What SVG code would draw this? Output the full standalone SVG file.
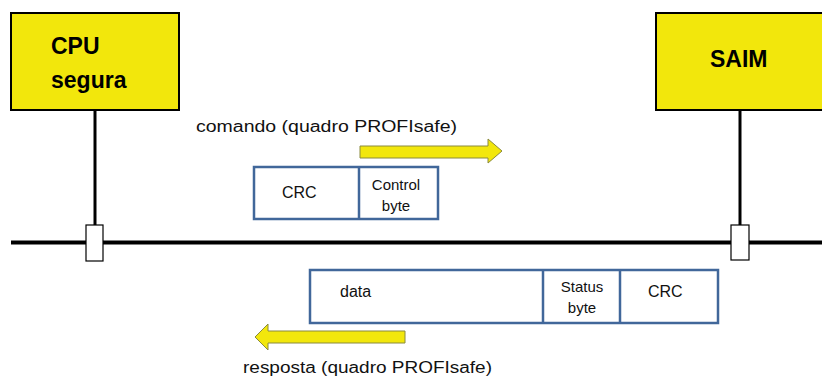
<svg xmlns="http://www.w3.org/2000/svg" width="822" height="378" viewBox="0 0 822 378">
<style>
.dev{fill:#F2E70C;stroke:#000;stroke-width:2}
.dt{font-family:"Liberation Sans",Arial,sans-serif;font-weight:bold;font-size:23px;fill:#000}
.lbl{font-family:"Liberation Sans",Arial,sans-serif;font-size:16px;fill:#111}
.sm{font-family:"Liberation Sans",Arial,sans-serif;font-size:15px;fill:#111}
.frame{fill:#fff;stroke:#41679A;stroke-width:2.5}
.arr{fill:#F2E70C;stroke:#8A8A3C;stroke-width:1}
.wire{stroke:#000;stroke-width:3;fill:none}
.bus{stroke:#000;stroke-width:4;fill:none}
.port{fill:#fff;stroke:#000;stroke-width:1.2}
</style>
<rect width="822" height="378" fill="#fff"/>
<g id="connectors">
<line class="bus" x1="11" y1="242.5" x2="822" y2="242.5"/>
<line class="wire" x1="95" y1="110" x2="95" y2="226"/>
<line class="wire" x1="740" y1="110" x2="740" y2="226"/>
</g>
<g id="cpu">
<rect class="dev" x="11" y="13" width="168" height="97"/>
<text class="dt" x="51" y="54">CPU</text>
<text class="dt" x="51" y="88">segura</text>
</g>
<g id="saim">
<rect class="dev" x="656" y="13" width="180" height="97"/>
<text class="dt" x="710" y="67">SAIM</text>
</g>
<g id="port-cpu">
<rect class="port" x="86" y="225" width="17" height="36"/>
</g>
<g id="port-saim">
<rect class="port" x="731" y="225" width="18" height="35"/>
</g>
<g id="command">
<text class="lbl" x="196" y="132" textLength="261" lengthAdjust="spacingAndGlyphs">comando (quadro PROFIsafe)</text>
<polygon class="arr" points="360,146 488,146 488,139 502,151 488,163 488,158 360,158"/>
<rect class="frame" x="254" y="167" width="184" height="52"/>
<line class="frame" x1="359" y1="167" x2="359" y2="219"/>
<text class="lbl" x="282" y="198" font-size="17">CRC</text>
<text class="sm" x="396" y="190" text-anchor="middle">Control</text>
<text class="sm" x="396" y="211" text-anchor="middle">byte</text>
</g>
<g id="response">
<rect class="frame" x="310" y="270" width="408" height="53"/>
<line class="frame" x1="543" y1="270" x2="543" y2="323"/>
<line class="frame" x1="620" y1="270" x2="620" y2="323"/>
<text class="lbl" x="340" y="297" font-size="18">data</text>
<text class="sm" x="582" y="292" text-anchor="middle">Status</text>
<text class="sm" x="582" y="313" text-anchor="middle">byte</text>
<text class="lbl" x="648" y="297" font-size="17">CRC</text>
<polygon class="arr" points="405,331 268,331 268,324 255,337 268,350 268,343 405,343"/>
<text class="lbl" x="243" y="373" textLength="249" lengthAdjust="spacingAndGlyphs">resposta (quadro PROFIsafe)</text>
</g>
</svg>
